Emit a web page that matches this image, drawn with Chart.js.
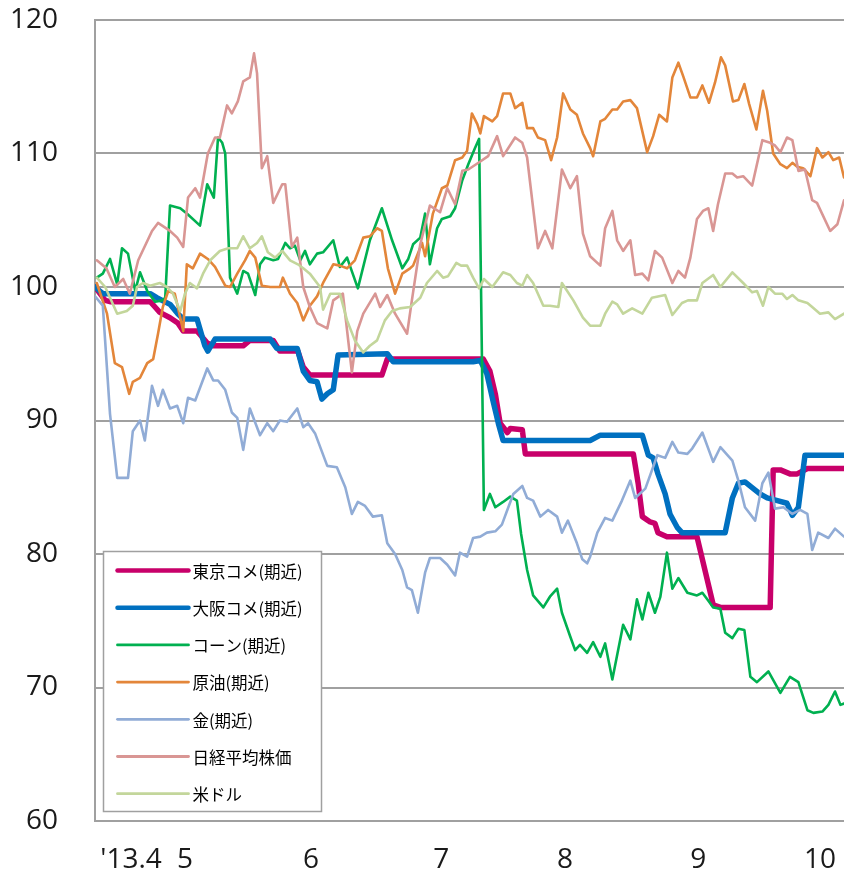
<!DOCTYPE html>
<html>
<head>
<meta charset="utf-8">
<script src="https://cdn.jsdelivr.net/npm/chart.js@4.4.0/dist/chart.umd.min.js"></script>
<style>
  html, body { margin: 0; padding: 0; background: #ffffff; }
  #wrap { width: 844px; height: 875px; }
</style>
</head>
<body>
<div id="wrap"><canvas id="c" width="844" height="875"></canvas></div>
<script>
// ---- x-axis: trading-day index, month tick labels ----
const tickDays   = [6, 15, 36, 57.7, 78.3, 100.5, 120.8];
const tickLabels = ["'13.4", "5", "6", "7", "8", "9", "10"];
const lastDay = 124.8;

// ---- series names ----
const seriesNames = ["東京コメ(期近)", "大阪コメ(期近)", "コーン(期近)", "原油(期近)", "金(期近)", "日経平均株価", "米ドル"];

// ---- 東京コメ(期近) ----
const tokyoDays = [0,1.7,2.5,9.2,10,10.8,12.5,13.8,14.7,17,18.7,19.7,24.7,25.8,29.7,30.8,33.8,34.7,35.8,47.8,48.7,64.7,65.8,66.7,67.5,68.7,69.2,71.2,71.7,89.7,90.5,91.2,92.5,93.3,93.8,95.3,100.3,103,104.2,112.5,113,114.2,115.8,117,118.7,124.8];
const tokyoVals = [100,99,98.9,98.9,98.5,98.1,97.7,97.3,96.7,96.7,95.8,95.6,95.6,96,96,95.2,95.2,94,93.4,93.4,94.6,94.6,93.7,92,89.8,89.1,89.4,89.3,87.5,87.5,85.3,82.8,82.4,82.3,81.6,81.3,81.3,76.2,76,76,86.3,86.3,86,86,86.4,86.4];

// ---- 大阪コメ(期近) ----
const osakaDays = [0,1.3,9.2,10.3,12.5,13.8,14.7,17,18.3,18.8,20,29.2,30.3,33.7,34.7,35.8,37,37.8,38.7,39.7,40.5,48.7,49.7,63,64.2,65.3,66.3,67.2,68,82.5,84.2,91.2,92.2,93,93.8,95,95.8,97,97.8,105,106.2,107.2,108.3,109.7,110.8,112,113.7,115.3,116.2,117.2,118.3,124.8];
const osakaVals = [100,99.5,99.5,99.2,98.7,98,97.6,97.6,95.6,95.2,96.1,96.1,95.4,95.4,93.7,93,92.9,91.6,92,92.3,94.9,95,94.4,94.4,94.5,93.5,91.5,89.8,88.5,88.5,88.9,88.9,87.4,87.2,86,84.5,83,82,81.6,81.6,84.2,85.3,85.4,84.9,84.5,84.2,84,83.8,82.9,83.5,87.4,87.4];

// ---- コーン(期近) ----
const cornDays = [0.3,1.3,2.5,3.7,4.5,5.5,6.7,7.5,8.7,10,11.2,11.7,12.5,14.2,15.3,17.5,18.7,19.8,20.5,21.2,21.7,22.5,23.7,24.7,25.5,26.7,27.5,28.3,29.7,30.5,31.7,32.5,33.3,34.2,35,35.8,37,38,39.7,40.8,42,43.8,45.8,47.8,49.5,51.2,52.2,53,54.2,55,55.8,57,57.8,59.2,60,61.2,62.2,63.3,64,64.8,65.8,66.7,68,69.2,70.3,71,72,73,74.7,75.8,77,77.8,79.2,80,80.8,82,83,84.2,85,86.2,88,89.2,90.3,91.2,92.2,93.3,94.2,95.3,96.2,97.2,98.7,100.3,101.2,102.2,103,104.2,105,106.2,107.2,108.2,109.2,110.3,112.2,114.2,115.8,117.2,118.7,119.7,121.2,122.2,123.3,124.2,124.8];
const cornVals = [100.7,101,102.1,100.2,102.9,102.5,99.7,101.1,99.7,98.9,99,99.2,106.1,105.9,105.5,104.6,107.7,106.7,111.2,110.8,110,100.7,99.5,101.2,101,99.4,101.7,102.2,102,102.1,103.3,102.9,103.1,102,102.7,101.7,102.5,102.6,103.5,101.5,102.2,99.9,103.5,105.9,103.5,101.4,102.1,103.2,103.7,105.5,101.7,104.4,105.1,105.3,105.9,108,109.2,110.4,111.1,83.3,84.5,83.5,83.9,84.3,84,81.5,78.8,76.9,76,76.8,77.4,75.6,73.8,72.8,73.2,72.6,73.4,72.3,73.3,70.6,74.7,73.6,76.6,75.1,77.1,75.6,76.8,80.1,77.4,78.2,77.1,76.9,77.1,76.5,76,75.9,74.1,73.7,74.4,74.3,70.8,70.4,71.2,69.6,70.8,70.4,68.3,68.1,68.2,68.7,69.7,68.7,68.8];

// ---- 原油(期近) ----
const crudeDays = [0.3,2,3.3,4.5,5.7,6.3,7.5,8.7,9.7,10.5,11.3,12.2,13.3,14.7,15.3,16.3,17.5,18.8,20,21.7,22.5,23.7,25,25.8,26.7,27.8,29.2,30.8,31.3,32.5,33.7,34.7,35.8,37,38,39.7,40.8,42,43.3,44.7,45.8,47,47.8,48.8,50,51.2,52.5,53,54.5,55,56.3,57.8,58.7,60,61.2,62,62.8,63.7,64.2,64.8,66.2,67,68,69.2,70,71.2,72,73,73.8,75,76,77,78,79.2,80.3,81.3,82.5,83,84.2,85,86.2,87,88,89.2,90.3,92,93,94,95.3,96.2,97.2,98,99.2,100.3,101.2,102.3,103.3,104.3,105,106.3,107.2,108.2,109,110.2,111.3,112,113,114.2,115.3,116.2,117,118,119.2,120.3,121.2,122.2,123,124,124.8];
const crudeVals = [100.3,98,94.3,94,92,92.9,93.2,94.3,94.6,96.5,98.5,99.7,99.5,96.7,101.7,101.4,102.5,102.1,101.5,100.1,100,101,102,102.7,102.2,100.1,100,100,100.7,99.5,98.8,97.5,98.6,99.3,100.3,101.7,101.6,101.4,102,103.7,103.8,104.4,104.2,101.4,99.5,101,101.4,101.6,103.3,102.3,105.5,107.4,107.6,109.5,109.7,110.2,113,112.2,111.5,112.8,112.4,112.8,114.5,114.5,113.4,113.8,111.9,111.9,111.2,111,109.5,111.2,114.5,113.3,112.9,111.5,110.4,109.8,112.4,112.6,113.3,113.3,113.9,114,113.4,110.1,111.3,112.9,112.4,115.7,116.8,115.8,114.2,114.2,115.1,113.8,115.3,117.2,116.6,113.9,114,115.2,113.7,111.8,114.7,113.2,110,109.2,108.9,109.3,109,108.9,108.3,110.4,109.7,110.1,109.5,109.7,108.2];

// ---- 金(期近) ----
const goldDays = [0,1.3,2.5,3.7,5.5,6.3,7.5,8.3,9.5,10.5,11.3,12.5,13.7,14.7,15.5,16.7,18.7,19.7,20.5,21.7,22.8,23.7,24.7,25.8,27.5,28.7,29.7,30.8,32,33.7,34.7,35.5,36.7,38.7,40.3,41.7,42.8,43.8,45,46.3,47.8,48.7,50,51.2,52,52.8,53.8,55,55.8,57.5,58.7,60,60.8,62,63,64.2,65.3,66.7,67.8,68.7,69.7,71.2,72,73,74.2,75.5,77,77.8,78.8,80.3,81.2,82,82.5,83.7,85,86.2,87.8,89.2,90,91.7,93.7,95,96.2,97.2,98.7,99.5,101.2,103,104.2,106.2,107.2,108.3,110,111.2,112.2,113.3,114.7,116.2,117.5,118.7,119.5,120.5,122.2,123.3,124.8];
const goldVals = [99.3,98.6,90.5,85.7,85.7,89.2,90,88.5,92.6,91.1,92.3,90.9,91.1,89.8,91.7,91.5,93.9,93,93,92.3,90.6,90.2,87.8,90.9,88.9,89.8,89.2,90,89.9,90.9,89.5,89.8,89,86.6,86.5,85,83,83.9,83.6,82.8,82.9,80.8,80,78.8,77.5,77.3,75.6,78.6,79.7,79.7,79.2,78.4,80.1,79.8,81.2,81.3,81.6,81.7,82.2,83.3,84.5,85.1,84.2,84,82.8,83.3,82.8,81.6,82.5,80.8,79.6,79.3,79.8,81.6,82.7,82.5,84,85.5,84.2,84.9,87.4,87.2,88.4,87.6,87.5,87.9,89.1,86.9,88,87,85.5,83.5,82.5,85.3,86.1,83.4,83.5,83,83.3,83,80.3,81.6,81.2,81.9,81.3];

// ---- 日経平均株価 ----
const nikkeiDays = [0.3,1.9,3.3,4.7,5.8,7.2,9.5,10.5,12.5,13.7,14.7,15.5,16.7,17.5,18.8,20,20.8,22,22.8,23.8,24.7,25.8,26.5,27,27.8,28.7,29.7,31.2,31.7,32.8,33.7,34.7,35.8,37,38.7,39.7,41.3,42.8,43.7,44.7,46.7,47.5,48.7,50,52,52.8,54.2,55.8,57.5,58.7,60,61.2,62.2,64.2,65.5,67,68,70,71.2,72,73.8,75,76.2,77.8,79.2,80.3,81.3,82.5,84.2,85,86.2,87,88,89.2,90,91.2,92.2,93.3,94.5,96.2,97.2,98.3,99.2,100.3,101.3,102.2,103,103.8,105,106.2,107,108,109.5,111.2,112.5,113.3,114.2,115.3,116.2,117.2,118.3,119.5,120.3,122.5,123.7,124.8];
const nikkeiVals = [102,101.4,100,100.6,99.5,102,104.2,104.8,104.2,103.7,103,106.7,107.4,106.7,110,111.2,111.2,113.6,113,113.9,115.4,115.7,117.5,116,108.9,109.8,106.3,107.7,107.7,103,103.7,100,98.5,97.3,96.9,99,99.5,93.6,96.7,98,99.5,98.5,99.4,98,96.5,99,103.2,106.1,105.6,107.4,106.2,108.7,108.8,109.4,109.8,111.3,109.8,111.2,110.8,109.7,102.9,104.2,102.9,108.8,107.4,108.3,104,102.3,101.6,104.4,105.7,103.5,102.7,103.5,100.9,101,100.5,102.7,102.2,100.3,101.2,100.7,102.2,105.1,105.7,105.9,104.2,106.2,108.5,108.5,108.2,108.3,107.6,111,110.8,110.6,110.1,111.2,111,108.7,108.8,106.5,106.3,104.2,104.7,106.5];

// ---- 米ドル ----
const usdDays = [0.3,1.7,3.7,5.3,6.3,7,8,9.2,10.8,12,13,14.2,15,15.8,17,18,19.2,20.8,22.2,23.7,24.7,25.8,27,27.8,28.8,30,31.2,32.5,33.8,34.7,35.8,37.5,38,39.2,40.8,42,43.3,44.7,45.8,47,48.3,49.5,50.8,52.5,54.2,55.3,57,58,58.8,60.2,61,62,63,64,64.8,66.2,68,69.2,70.3,71.2,72,73,73.8,74.7,75.8,77.2,77.8,79.7,81.3,82.5,84.2,85,86.2,87,88,89.5,91.2,92.8,95,96.2,97.8,98.8,100.3,101.2,103,104.2,106.2,108,109.5,110.3,111.3,112.2,113.3,114.5,115.3,116.2,117.2,118.7,119.5,120.8,122.2,123.3,124.8];
const usdVals = [100.7,100,98,98.2,98.6,100,100.3,100.1,100.3,100,99.5,98.2,99.5,100.3,99.9,101,102,102.7,102.9,102.9,103.8,102.9,103.3,103.8,102.6,102.2,102.7,102,101.7,101.4,101,100,98.3,99.5,99.5,97.5,96,95.1,95.6,96,97.5,98.2,98.4,98.5,99.2,100.3,101.2,100.7,100.8,101.8,101.6,101.6,100.7,99.9,100.6,100,101.1,100.9,100.3,100.1,100.9,100.3,99.5,98.6,98.6,98.5,100.3,99,97.7,97.1,97.1,98,98.9,98.7,98,98.4,98,99.2,99.4,97.9,98.8,99,99,100.3,100.9,100,101.1,100.3,99.6,99.7,98.6,100,99.5,99.5,99.1,99.4,99,98.8,98.5,98,98.1,97.6,98];

const seriesDays = [tokyoDays, osakaDays, cornDays, crudeDays, goldDays, nikkeiDays, usdDays];
const seriesVals = [tokyoVals, osakaVals, cornVals, crudeVals, goldVals, nikkeiVals, usdVals];
const seriesColors = ['#C8006A', '#0070C0', '#00B050', '#E3863A', '#91ACD6', '#D99694', '#C3D69B'];
const seriesWidths = [5.5, 5.5, 2.6, 2.6, 2.6, 2.6, 2.6];

const datasets = seriesNames.map((name, i) => ({
  label: name,
  data: seriesDays[i].map((d, k) => ({ x: d, y: seriesVals[i][k] })),
  borderColor: seriesColors[i],
  backgroundColor: seriesColors[i],
  borderWidth: seriesWidths[i],
  pointRadius: 0,
  tension: 0,
  fill: false,
  borderJoinStyle: 'round',
  borderCapStyle: 'round',
  order: seriesNames.length - i
}));

const insideLegend = {
  id: 'insideLegend',
  afterDatasetsDraw(chart) {
    const ctx = chart.ctx;
    const area = chart.chartArea;
    const bx = area.left + 8.5, by = area.top + 531.5, bw = 218, bh = 260;
    ctx.save();
    ctx.fillStyle = '#ffffff';
    ctx.fillRect(bx, by, bw, bh);
    ctx.strokeStyle = '#a0a0a0';
    ctx.lineWidth = 1.5;
    ctx.strokeRect(bx, by, bw, bh);
    chart.data.datasets.forEach((ds, i) => {
      const y = by + 19 + i * 37.2;
      ctx.beginPath();
      ctx.strokeStyle = ds.borderColor;
      ctx.lineWidth = i < 2 ? 4.5 : 2.8;
      ctx.lineCap = 'round';
      ctx.moveTo(bx + 14, y);
      ctx.lineTo(bx + 85, y);
      ctx.stroke();
      ctx.fillStyle = '#000000';
      ctx.font = '16.5px "Noto Sans CJK JP"';
      ctx.textBaseline = 'middle';
      ctx.textAlign = 'left';
      ctx.fillText(ds.label, bx + 89, y + 1);
    });
    ctx.restore();
  }
};

new Chart(document.getElementById('c'), {
  type: 'line',
  data: { datasets },
  options: {
    responsive: false,
    animation: false,
    events: [],
    layout: { padding: { top: 20, right: 0, left: 0, bottom: 0 } },
    plugins: { legend: { display: false }, tooltip: { enabled: false } },
    scales: {
      x: {
        type: 'linear',
        min: 0,
        max: lastDay,
        afterFit: s => { s.height = 54; s.paddingLeft = 0; s.paddingRight = 0; },
        afterBuildTicks: axis => { axis.ticks = tickDays.map(v => ({ value: v })); },
        grid: { display: false, drawTicks: false },
        border: { display: true, color: '#a0a0a0', width: 2 },
        ticks: {
          autoSkip: false,
          maxRotation: 0,
          padding: 22,
          color: '#1a1a1a',
          font: { family: '"Open Sans"', size: 28 },
          callback: (v, i) => tickLabels[i]
        }
      },
      y: {
        min: 60,
        max: 120,
        afterFit: s => { s.width = 95; s.paddingTop = 0; s.paddingBottom = 0; },
        grid: { color: '#a0a0a0', lineWidth: 2, drawTicks: false },
        border: { display: true, color: '#a0a0a0', width: 2 },
        ticks: {
          stepSize: 10,
          padding: 37,
          color: '#1a1a1a',
          font: { family: '"Open Sans"', size: 28 }
        }
      }
    }
  },
  plugins: [insideLegend]
});
</script>
</body>
</html>
